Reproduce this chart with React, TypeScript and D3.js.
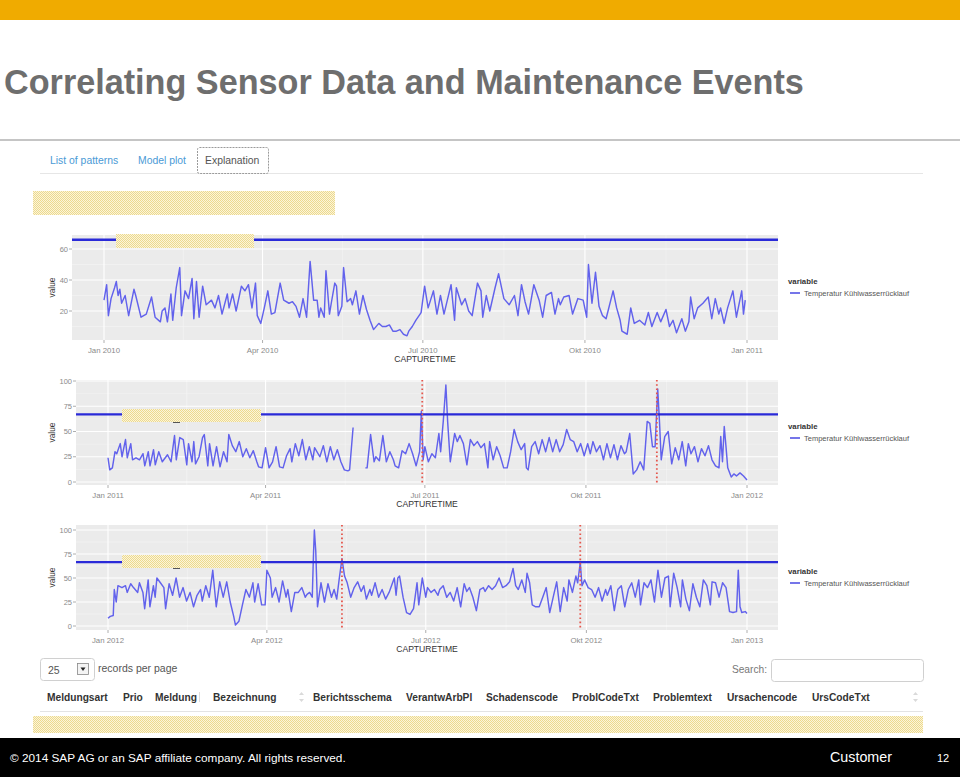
import React from "react";
import * as d3 from "d3";

// ---------------- DATA ----------------
const TITLE = "Correlating Sensor Data and Maintenance Events";
const TABS = ["List of patterns", "Model plot", "Explanation"];
const YEARS = [2010, 2011, 2012];
const SERIES_NAME = "Temperatur Kühlwasserrücklauf";
const LEGEND_TITLE = "variable";
const X_TITLE = "CAPTURETIME";
const Y_TITLE = "value";
const X_TICK_MONTHS = [0, 3, 6, 9, 12];
const X_TICK_NAMES = ["Jan", "Apr", "Jul", "Okt", "Jan"];
const Y_TICKS_2010 = [20, 40, 60];
const Y_TICKS_2011 = [0, 25, 50, 75, 100];
const Y_TICKS_2012 = [0, 25, 50, 75, 100];
const THRESHOLDS = [66, 67, 66.5];
const EVENTS_2010: number[] = [];
const EVENTS_2011 = [179.5, 313.5]; // day of year
const EVENTS_2012 = [134, 270.5];

// [day of year, value]
const SERIES_2010: [number, number | null][] = [
  [0,27],[1.5,37],[2.5,17],[4,28],[6,35],[7,39],[8,30],[9,34],[10,25],[12,30],[14,17],[17,34],[18,30],[21,16],[24,18],[27,29],[29,16],[32,13],[33,20],[34.6,22],[36,13],[38,31],[39,14],[41,35],[43,48],[44,17],[46,33],[48,28],[50,41],[51,15],[52.5,39],[54,16],[56,36],[58,24],[61,27],[63,22],[65,30],[67,18],[70,31],[71,22],[73,31],[75,20],[78,36],[80,33],[82,37],[84,22],[86,38],[87,17],[89,12],[91,22],[93,33],[95,18],[97,19],[100,38],[102,27],[105,25],[107,26],[109,23],[111,16],[113,28],[115,16],[117,52],[119,27],[121,27],[122,16],[123,22],[125,16],[126,46],[128,18],[129,25],[131,38],[132,36],[133,17],[135,23],[136,48],[138,26],[140,28],[141,24],[143,33],[145,18],[147,30],[149,21],[151,14],[153,8],[156,12],[158,10],[160,10],[162,11],[164,7],[166,7],[168,8],[170,5],[172,4],[173,7],[175,10],[177,14],[180,19],[182,36],[184,22],[187,33],[189,18],[191,30],[193,18],[197,37],[199,14],[200,35],[203,24],[205,28],[207,20],[209,17],[212,38],[214,33],[215,16],[217,30],[219,20],[222,35],[224,44],[227,28],[230,24],[233,30],[235,17],[237,37],[239,26],[241,18],[244,37],[247,27],[249,16],[251,30],[254,32],[256,18],[258,28],[259,24],[261,29],[264,30],[266,18],[269,28],[272,27],[274,16],[275,50],[277,25],[279,45],[281,23],[283,17],[285,15],[289,33],[291,22],[293,14],[294,7],[297,5],[299,22],[301,12],[304,14],[307,11],[309,19],[311,10],[314,19],[316,13],[319,21],[321,10],[323,14],[325,6],[328,15],[330,7],[332,13],[333,29],[335,15],[337,22],[340,25],[343,29],[345,15],[347,28],[349,18],[350,22],[352,12],[354,22],[357,33],[359,16],[362,33],[363,18],[364,27]
];

const SERIES_2011: [number, number | null][] = [
  [0,24],[1,12],[2.5,14],[4,30],[5,28],[7,38],[8,25],[10,42],[11,24],[13,38],[14,22],[16,24],[18,22],[20,28],[21,16],[23,30],[24,16],[26,32],[27,17],[29,30],[31,20],[34,27],[36,20],[38,46],[39,22],[41,44],[43,42],[45,17],[46,38],[48,20],[49,40],[50,18],[52,25],[54,44],[55,47],[57,16],[58,38],[60,16],[62,35],[64,15],[66,30],[68,20],[69,47],[71,36],[73,30],[75,40],[77,25],[79,33],[81,24],[83,31],[85,20],[86,15],[88,14],[90,34],[92,14],[94,20],[96,35],[98,15],[100,14],[102,26],[104,33],[105,20],[107,38],[109,26],[111,42],[113,22],[115,35],[117,22],[118,34],[121,25],[123,36],[125,20],[127,35],[129,22],[131,32],[133,20],[135,12],[137,11],[138,12],[140,54],[143,null],[147,14],[148,14],[150,47],[152,20],[153,25],[155,21],[157,46],[159,20],[161,30],[163,22],[164,16],[166,14],[168,31],[170,28],[172,38],[174,28],[176,16],[178,30],[179,70],[180,22],[181,35],[183,20],[185,28],[187,24],[189,48],[190,30],[191.5,60],[193,96],[194,60],[195.5,20],[198,48],[199.5,40],[201,46],[203,38],[205,17],[207,42],[209,36],[211,40],[213,34],[215,38],[217,14],[218,40],[220,22],[222,35],[224,26],[226,14],[228,14],[230,30],[232,52],[234,40],[236,32],[238,38],[239,14],[240,12],[242,35],[244,40],[246,28],[248,42],[250,30],[252,44],[254,30],[256,42],[258,30],[260,37],[262,52],[264,42],[266,40],[268,30],[270,38],[272,26],[274,38],[275.5,28],[277,40],[279,30],[281,36],[283,22],[285,38],[287,24],[289,37],[291,22],[293,36],[295,28],[296,30],[298,48],[300,8],[302,12],[304,20],[306,12],[308,60],[309.5,58],[311,35],[312.5,35],[314,92],[315,60],[316,22],[318,45],[320,50],[322,18],[324,34],[326,22],[328,40],[330,16],[331.5,38],[333,28],[335,35],[337,20],[339,33],[341,26],[343,36],[345,22],[347,16],[349,14],[350,45],[351,20],[352,55],[353,35],[354,14],[356,5],[357.5,8],[359,6],[361,9],[363,6],[365,2]
];

const SERIES_2012: [number, number | null][] = [
  [0,8],[1.3,10],[3,11],[3.6,38],[4.7,25],[5.7,42],[8,40],[10,42],[11,35],[13,44],[14.6,40],[17,35],[18,45],[20,35],[21,18],[23,48],[24,20],[26,42],[27,30],[28,50],[30,45],[32,40],[33,18],[35,44],[37,32],[39,50],[41,30],[43,40],[45,26],[47,35],[49,20],[51,32],[53,38],[54,26],[56,42],[58,30],[60,58],[62,20],[64,46],[66,30],[68,46],[70,25],[72,10],[73,1],[75,5],[77,22],[79,38],[81,30],[83,45],[84,25],[86,44],[88,22],[90,22],[91,58],[93,50],[94,30],[96,40],[98,25],[100,47],[102,30],[103,38],[105,15],[107,35],[109,35],[111,40],[113,30],[114,33],[115.5,35],[117,30],[117.7,75],[118.2,100],[119,78],[120,20],[122,45],[124,25],[126,44],[128,30],[129.5,38],[131,28],[132.5,50],[134,70],[135.5,52],[137,45],[139,30],[141,40],[143,46],[145,36],[146.5,42],[148,28],[150,38],[151,32],[153,45],[155,30],[157,38],[159,28],[161,35],[163,45],[164,50],[165,32],[166,50],[167,52],[169,30],[171,14],[173,12],[175,18],[177,45],[178,22],[180,50],[182,30],[183,40],[185,35],[187,38],[189,32],[190,38],[192,42],[194,30],[196,35],[198,26],[200,40],[202,20],[204,44],[205.5,36],[207,40],[209,30],[211,16],[213,38],[215,40],[216,36],[218,42],[220,38],[222,42],[224,50],[226,40],[228,42],[230,46],[232,60],[233.5,42],[235,38],[237,48],[239,35],[240,55],[241.5,45],[243,22],[245,20],[247,20],[249,30],[251,40],[253,14],[255,30],[257,46],[259,15],[261,40],[263,26],[264,48],[266,35],[268,52],[269,45],[270.5,66],[271.5,42],[273,48],[275,40],[277,38],[279,30],[281,40],[283,26],[285,38],[286,32],[288,42],[290,16],[292,38],[294,42],[296,20],[298,38],[300,45],[302,30],[304,48],[305,22],[307,45],[309,40],[311,48],[313,25],[315,58],[317,30],[319,50],[321,52],[322,20],[324,55],[326,40],[328,20],[329,48],[331,28],[333,16],[335,44],[337,30],[339,20],[341,48],[343,42],[345,22],[346,46],[348,45],[350,30],[352,45],[354,40],[356,15],[358,14],[360,15],[361,58],[362,20],[363,14],[365,15],[366,13]
];

const SERIES = [SERIES_2010, SERIES_2011, SERIES_2012];
const EVENTS = [EVENTS_2010, EVENTS_2011, EVENTS_2012];
const Y_TICKS = [Y_TICKS_2010, Y_TICKS_2011, Y_TICKS_2012];

const PAGE_SIZE = "25";
const PAGE_LABEL = "records per page";
const SEARCH_LABEL = "Search:";
const TABLE_COLUMNS = ["Meldungsart", "Prio", "Meldung", "Bezeichnung", "Berichtsschema", "VerantwArbPl", "Schadenscode", "ProblCodeTxt", "Problemtext", "Ursachencode", "UrsCodeTxt"];
const FOOTER_LEFT = "© 2014 SAP AG or an SAP affiliate company. All rights reserved.";
const FOOTER_MID = "Customer";
const FOOTER_PAGE = "12";

// ---------------- LAYOUT ----------------
const W = 960, H = 777;
const FONT = "'Liberation Sans', Arial, Helvetica, sans-serif";
const PANELS = [
  { top: 235, bottom: 340, left: 72, right: 778, x0: 104, x1: 747, yDom: [0, 60], yRng: [342, 249], legendY: 282 },
  { top: 380, bottom: 485, left: 76, right: 778, x0: 108, x1: 747, yDom: [0, 100], yRng: [482, 381], legendY: 427 },
  { top: 525, bottom: 630, left: 76, right: 778, x0: 108, x1: 747, yDom: [0, 100], yRng: [626, 530], legendY: 572 },
];
const COLUMN_X = [47, 123, 155, 213, 313, 406, 486, 572, 653, 727, 812];
const REDACT = [
  { x: 33, y: 191, w: 302, h: 24 },
  { x: 116, y: 234, w: 138, h: 14 },
  { x: 122, y: 409, w: 139, h: 13 },
  { x: 122, y: 555, w: 139, h: 13 },
  { x: 33, y: 716, w: 890, h: 17 },
];
const DAY = 86400000;

function Panel({ idx }: { idx: number }) {
  const p = PANELS[idx];
  const year = YEARS[idx];
  const start = Date.UTC(year, 0, 1);
  const x = d3.scaleUtc().domain([new Date(start), new Date(Date.UTC(year + 1, 0, 1))]).range([p.x0, p.x1]);
  const y = d3.scaleLinear().domain(p.yDom).range(p.yRng);
  const data = SERIES[idx].map(([d, v]) => ({ t: new Date(start + d * DAY), v }));
  const line = d3.line<{ t: Date; v: number | null }>()
    .defined((d) => d.v != null)
    .x((d) => x(d.t))
    .y((d) => y(d.v as number));
  const majors = X_TICK_MONTHS.map((m) => new Date(Date.UTC(year, m, 1)));
  const minors = majors.slice(1).map((d, i) => new Date((d.getTime() + majors[i].getTime()) / 2));
  const yt = Y_TICKS[idx];
  const step = yt[1] - yt[0];
  const yMinor = [yt[0] - step / 2, ...yt.map((v) => v + step / 2)];
  const clipId = `clip${idx}`;
  const fmtYear = (d: Date, i: number) => `${X_TICK_NAMES[i]} ${d.getUTCFullYear()}`;
  return (
    <g>
      <defs>
        <clipPath id={clipId}>
          <rect x={p.left} y={p.top} width={p.right - p.left} height={p.bottom - p.top} />
        </clipPath>
      </defs>
      <rect x={p.left} y={p.top} width={p.right - p.left} height={p.bottom - p.top} fill="#EBEBEB" />
      <g clipPath={`url(#${clipId})`}>
        {yMinor.map((v, i) => (
          <line key={"ym" + i} x1={p.left} x2={p.right} y1={y(v)} y2={y(v)} stroke="#F5F5F5" strokeWidth={0.6} />
        ))}
        {minors.map((d, i) => (
          <line key={"xm" + i} x1={x(d)} x2={x(d)} y1={p.top} y2={p.bottom} stroke="#F5F5F5" strokeWidth={0.6} />
        ))}
        {yt.map((v, i) => (
          <line key={"yM" + i} x1={p.left} x2={p.right} y1={y(v)} y2={y(v)} stroke="#FFFFFF" strokeWidth={1.1} />
        ))}
        {majors.map((d, i) => (
          <line key={"xM" + i} x1={x(d)} x2={x(d)} y1={p.top} y2={p.bottom} stroke="#FFFFFF" strokeWidth={1.1} />
        ))}
        <path d={line(data) || ""} fill="none" stroke="#6262EC" strokeWidth={1.45} strokeLinejoin="round" />
        <line x1={p.left} x2={p.right} y1={y(THRESHOLDS[idx])} y2={y(THRESHOLDS[idx])} stroke="#2A2AD8" strokeWidth={2.4} />
        {EVENTS[idx].map((d, i) => {
          const xx = x(new Date(start + d * DAY));
          return <line key={"ev" + i} x1={xx} x2={xx} y1={p.top} y2={p.bottom} stroke="#E5564C" strokeWidth={1.8} strokeDasharray="1.6,2.6" />;
        })}
      </g>
      {/* y axis */}
      {yt.filter((v) => y(v) >= p.top && y(v) <= p.bottom).map((v, i) => (
        <g key={"yt" + i}>
          <line x1={p.left - 3} x2={p.left} y1={y(v)} y2={y(v)} stroke="#999" strokeWidth={0.8} />
          <text x={p.left - 4} y={y(v) + 2.6} textAnchor="end" fontSize={7.5} fill="#8A8A8A" fontFamily={FONT}>{v}</text>
        </g>
      ))}
      {/* x axis */}
      {majors.map((d, i) => (
        <g key={"xt" + i}>
          <line x1={x(d)} x2={x(d)} y1={p.bottom} y2={p.bottom + 3} stroke="#999" strokeWidth={0.8} />
          <text x={x(d)} y={p.bottom + 12.5} textAnchor="middle" fontSize={7.8} fill="#8A8A8A" fontFamily={FONT}>{fmtYear(d, i)}</text>
        </g>
      ))}
      <text x={(p.left + p.right) / 2} y={p.bottom + 22} textAnchor="middle" fontSize={8.6} fill="#333" fontFamily={FONT}>{X_TITLE}</text>
      <text transform={`translate(55,${(p.top + p.bottom) / 2}) rotate(-90)`} textAnchor="middle" fontSize={8.4} fill="#333" fontFamily={FONT}>{Y_TITLE}</text>
      {/* legend */}
      <text x={788} y={p.legendY + 2} fontSize={7.8} fontWeight="bold" fill="#333" fontFamily={FONT}>{LEGEND_TITLE}</text>
      <line x1={790} x2={800} y1={p.legendY + 11} y2={p.legendY + 11} stroke="#3A3AE0" strokeWidth={1.4} />
      <text x={804} y={p.legendY + 13.6} fontSize={7.5} fill="#555" fontFamily={FONT}>{SERIES_NAME}</text>
    </g>
  );
}

export default function App() {
  return (
    <svg width={W} height={H} style={{ position: "absolute", left: 0, top: 0, background: "#fff" }} fontFamily={FONT}>
      <defs>
        <pattern id="hatch" width={2} height={2} patternUnits="userSpaceOnUse">
          <rect width={2} height={2} fill="#FBF5DA" />
          <rect x={0} y={0} width={1} height={1} fill="#EDD98E" />
          <rect x={1} y={1} width={1} height={1} fill="#EDD98E" />
        </pattern>
      </defs>
      <rect width={W} height={H} fill="#fff" />
      {/* header */}
      <rect x={0} y={0} width={W} height={20} fill="#F0AB00" />
      <text x={4} y={94} fontSize={34.2} fontWeight="bold" fill="#6E6E6E">{TITLE}</text>
      <line x1={0} x2={W} y1={140} y2={140} stroke="#8C8C8C" strokeWidth={1.2} />
      {/* tabs */}
      <line x1={40} x2={923} y1={173.5} y2={173.5} stroke="#E6E6E6" strokeWidth={1} />
      <text x={50} y={164} fontSize={10.4} fill="#4A9AD6">{TABS[0]}</text>
      <text x={138} y={164} fontSize={10.4} fill="#4A9AD6">{TABS[1]}</text>
      <rect x={197.5} y={147.5} width={71} height={26} fill="#fff" stroke="#9A9A9A" strokeWidth={1} strokeDasharray="2,1" rx={2} />
      <text x={205} y={164} fontSize={10.4} fill="#555">{TABS[2]}</text>

      {PANELS.map((_, i) => <Panel key={i} idx={i} />)}

      {REDACT.map((r, i) => (
        <rect key={"r" + i} x={r.x} y={r.y} width={r.w} height={r.h} fill="url(#hatch)" />
      ))}
      <line x1={173} x2={180} y1={422.5} y2={422.5} stroke="#555" strokeWidth={1} />
      <line x1={173} x2={180} y1={568.5} y2={568.5} stroke="#555" strokeWidth={1} />

      {/* table controls */}
      <rect x={40.5} y={658.5} width={54} height={22} rx={3} fill="#fff" stroke="#D0D0D0" />
      <text x={48} y={674} fontSize={10.5} fill="#555">{PAGE_SIZE}</text>
      <rect x={77.5} y={663.5} width={11} height={11} fill="#F4F4F4" stroke="#888" strokeWidth={0.8} />
      <path d="M80.5,667.5 L85.5,667.5 L83,671 Z" fill="#222" />
      <text x={98} y={672} fontSize={10.5} fill="#555">{PAGE_LABEL}</text>
      <text x={767} y={673} textAnchor="end" fontSize={10.2} fill="#777">{SEARCH_LABEL}</text>
      <rect x={771.5} y={659.5} width={152} height={22} rx={3} fill="#fff" stroke="#D0D0D0" />
      {TABLE_COLUMNS.map((c, i) => (
        <text key={c} x={COLUMN_X[i]} y={701} fontSize={10.2} fontWeight="bold" fill="#333">{c}</text>
      ))}
      <line x1={199.5} x2={199.5} y1={692} y2={702} stroke="#DDD" />
      <path d="M299,695 L301.5,692 L304,695 Z M299,699 L301.5,702 L304,699 Z" fill="#DADADA" />
      <path d="M913,695 L915.5,692 L918,695 Z M913,699 L915.5,702 L918,699 Z" fill="#DADADA" />
      <line x1={40} x2={923} y1={711.5} y2={711.5} stroke="#E3E3E3" strokeWidth={1} />

      {/* footer */}
      <rect x={0} y={738} width={W} height={H - 738} fill="#000" />
      <text x={10} y={762} fontSize={11.8} fill="#fff">{FOOTER_LEFT}</text>
      <text x={830} y={762} fontSize={14.3} fill="#fff">{FOOTER_MID}</text>
      <text x={937} y={762} fontSize={11} fill="#fff">{FOOTER_PAGE}</text>
    </svg>
  );
}
